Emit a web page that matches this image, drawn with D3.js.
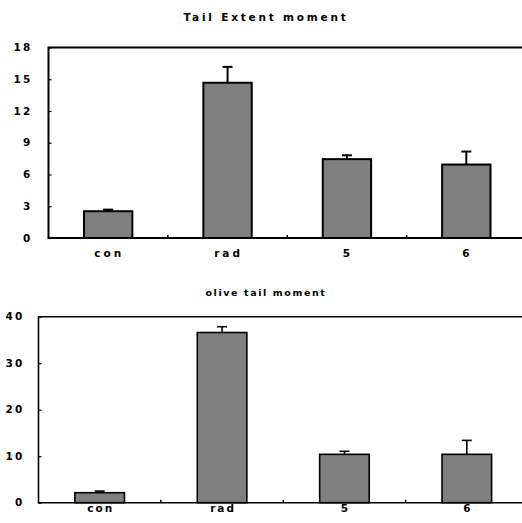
<!DOCTYPE html>
<html>
<head>
<meta charset="utf-8">
<script src="https://cdn.jsdelivr.net/npm/d3@7"></script>
<style>
  body { margin: 0; background: #fff; }
  svg { display: block; }
  text { font-family: "DejaVu Sans", sans-serif; font-weight: bold; fill: #000; }
</style>
</head>
<body>
<div id="chart"></div>
<script>
// categories and values
var categories = [ "con", "rad", "5", "6" ];

var tailExtent = [ 2.53, 14.67, 7.45, 6.94 ];
var tailExtentErr = [ 0.15, 1.5, 0.37, 1.23 ];
var tailExtentTicks = [ 0, 3, 6, 9, 12, 15, 18 ];

var oliveTail = [ 2.15, 36.6, 10.4, 10.4 ];
var oliveTailErr = [ 0.35, 1.25, 0.65, 3.0 ];
var oliveTailTicks = [ 0, 10, 20, 30, 40 ];

var svg = d3.select( "#chart" ).append( "svg" )
  .attr( "width", 522 )
  .attr( "height", 523 );

function barPanel( g, opt ) {

  var rows = categories.map( function( c, i ) {
    return { cat: c, value: opt.values[ i ], err: opt.errors[ i ] };
  } );

  var x = d3.scaleBand()
    .domain( categories )
    .range( [ opt.left, opt.right ] );

  var y = d3.scaleLinear()
    .domain( [ 0, opt.max ] )
    .range( [ opt.bottom, opt.top ] );

  var barW = x.bandwidth() * 0.405;

  // title
  g.append( "text" )
    .attr( "x", 266 )
    .attr( "y", opt.titleY )
    .attr( "text-anchor", "middle" )
    .style( "font-size", opt.titleSize )
    .style( "letter-spacing", opt.titleSpacing )
    .text( opt.title );

  // bars
  g.selectAll( ".bar" )
    .data( rows )
    .enter()
    .append( "rect" )
      .attr( "class", "bar" )
      .attr( "x", function( d ) { return x( d.cat ) + x.bandwidth() / 2 - barW / 2; } )
      .attr( "y", function( d ) { return y( d.value ); } )
      .attr( "width", barW )
      .attr( "height", function( d ) { return opt.bottom - y( d.value ); } )
      .style( "fill", "#808080" )
      .style( "stroke", "#000" )
      .style( "stroke-width", opt.stroke );

  // error bars (upper half only)
  var eb = g.selectAll( ".err" )
    .data( rows )
    .enter()
    .append( "g" )
      .attr( "class", "err" );

  eb.append( "line" )
    .attr( "x1", function( d ) { return x( d.cat ) + x.bandwidth() / 2; } )
    .attr( "x2", function( d ) { return x( d.cat ) + x.bandwidth() / 2; } )
    .attr( "y1", function( d ) { return y( d.value ); } )
    .attr( "y2", function( d ) { return y( d.value + d.err ); } )
    .style( "stroke", "#000" )
    .style( "stroke-width", opt.stroke );

  eb.append( "line" )
    .attr( "x1", function( d ) { return x( d.cat ) + x.bandwidth() / 2 - 5; } )
    .attr( "x2", function( d ) { return x( d.cat ) + x.bandwidth() / 2 + 5; } )
    .attr( "y1", function( d ) { return y( d.value + d.err ); } )
    .attr( "y2", function( d ) { return y( d.value + d.err ); } )
    .style( "stroke", "#000" )
    .style( "stroke-width", opt.stroke );

  // y axis, ticks pointing inward
  var yAxis = g.append( "g" )
    .attr( "transform", "translate(" + opt.left + ",0)" )
    .call( d3.axisRight( y ).tickValues( opt.ticks ).tickSize( 3 ).tickFormat( "" ) );
  yAxis.select( ".domain" ).remove();
  yAxis.selectAll( ".tick line" ).style( "stroke-width", 1.2 );

  g.selectAll( ".ylab" )
    .data( opt.ticks )
    .enter()
    .append( "text" )
      .attr( "class", "ylab" )
      .attr( "x", opt.left - opt.labelGap )
      .attr( "y", function( d ) { return y( d ); } )
      .attr( "dy", "0.35em" )
      .attr( "text-anchor", "end" )
      .style( "font-size", "10.5px" )
      .style( "letter-spacing", "2.2px" )
      .text( function( d ) { return d; } );

  // category separators: small ticks above the axis
  g.selectAll( ".sep" )
    .data( categories.slice( 1 ) )
    .enter()
    .append( "line" )
      .attr( "class", "sep" )
      .attr( "x1", function( d ) { return x( d ); } )
      .attr( "x2", function( d ) { return x( d ); } )
      .attr( "y1", opt.bottom )
      .attr( "y2", opt.bottom - 3 )
      .style( "stroke", "#000" )
      .style( "stroke-width", 1.5 );

  g.selectAll( ".xlab" )
    .data( categories )
    .enter()
    .append( "text" )
      .attr( "class", "xlab" )
      .attr( "x", function( d ) { return x( d ) + x.bandwidth() / 2 + 1; } )
      .attr( "y", opt.bottom + opt.xLabelDy )
      .attr( "text-anchor", "middle" )
      .style( "font-size", "10.5px" )
      .style( "letter-spacing", opt.xSpacing )
      .text( function( d ) { return d; } );

  // frame: top, left, bottom (right side runs off the picture)
  g.append( "path" )
    .attr( "d", "M" + opt.right + "," + opt.top + "H" + opt.left + "V" + opt.bottom + "H" + opt.right )
    .style( "fill", "none" )
    .style( "stroke", "#000" )
    .style( "stroke-width", opt.frame );
}

barPanel( svg.append( "g" ), {
  title: "Tail Extent moment", titleY: 21, titleSize: "10.5px", titleSpacing: "2.8px",
  values: tailExtent, errors: tailExtentErr, ticks: tailExtentTicks, max: 18,
  left: 48.5, right: 526, top: 47.5, bottom: 238,
  labelGap: 16, xLabelDy: 19, xSpacing: "3px", stroke: 2, frame: 2
} );

barPanel( svg.append( "g" ), {
  title: "olive tail moment", titleY: 296, titleSize: "9.5px", titleSpacing: "1.6px",
  values: oliveTail, errors: oliveTailErr, ticks: oliveTailTicks, max: 40,
  left: 38.5, right: 528, top: 316.7, bottom: 502.7,
  labelGap: 14, xLabelDy: 9, xSpacing: "2px", stroke: 1.6, frame: 1.6
} );
</script>
</body>
</html>
